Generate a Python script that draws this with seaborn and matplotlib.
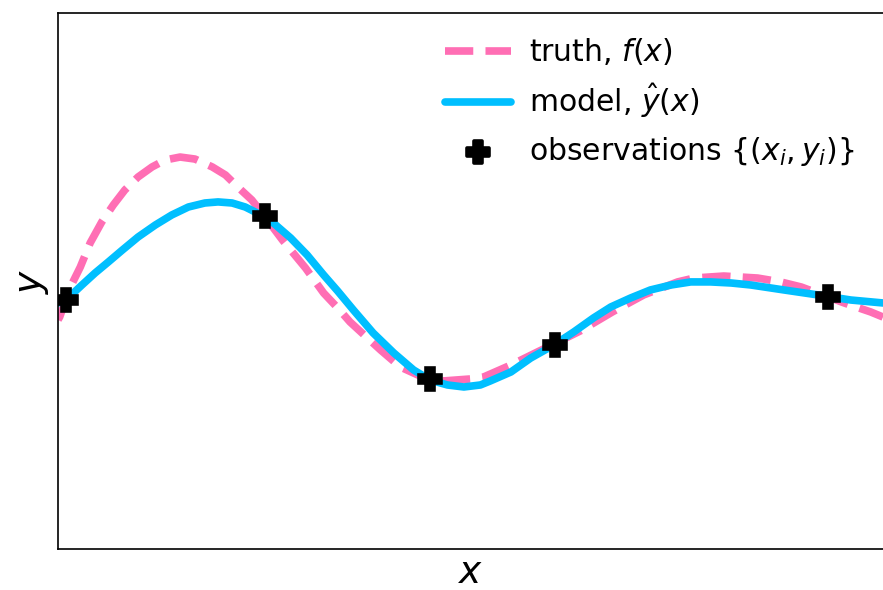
import matplotlib
matplotlib.use("Agg")
import matplotlib.pyplot as plt
import pandas as pd
import seaborn as sns

# Ground-truth function f(x), sampled along the unit interval
truth_x = [0.000, 0.002, 0.015, 0.027, 0.039, 0.053, 0.067, 0.081, 0.097, 0.114,
           0.130, 0.148, 0.166, 0.187, 0.203, 0.218, 0.235, 0.251, 0.272, 0.300,
           0.322, 0.339, 0.354, 0.375, 0.391, 0.415, 0.436, 0.467, 0.500, 0.516,
           0.549, 0.581, 0.601, 0.633, 0.672, 0.710, 0.751, 0.771, 0.807, 0.848,
           0.876, 0.901, 0.953, 0.985, 1.000]
truth_y = [-0.290, -0.269, -0.045, 0.104, 0.284, 0.440, 0.567, 0.679, 0.776, 0.851,
           0.903, 0.925, 0.910, 0.851, 0.791, 0.701, 0.604, 0.478, 0.306, 0.097,
           -0.090, -0.201, -0.306, -0.425, -0.515, -0.642, -0.701, -0.746, -0.731, -0.716,
           -0.627, -0.530, -0.470, -0.373, -0.231, -0.104, -0.007, 0.022, 0.037, 0.022,
           -0.007, -0.045, -0.164, -0.231, -0.269]

# Fitted model prediction y_hat(x)
model_x = [0.000, 0.011, 0.029, 0.045, 0.061, 0.078, 0.097, 0.118, 0.138, 0.158,
           0.178, 0.194, 0.211, 0.227, 0.239, 0.251, 0.261, 0.282, 0.302, 0.322,
           0.339, 0.358, 0.382, 0.407, 0.431, 0.451, 0.472, 0.492, 0.512, 0.524,
           0.549, 0.573, 0.601, 0.625, 0.649, 0.670, 0.694, 0.718, 0.743, 0.767,
           0.791, 0.816, 0.840, 0.880, 0.921, 0.961, 1.000]
model_y = [-0.164, -0.134, -0.030, 0.060, 0.142, 0.231, 0.328, 0.418, 0.493, 0.552,
           0.582, 0.590, 0.582, 0.552, 0.515, 0.481, 0.433, 0.321, 0.194, 0.045,
           -0.075, -0.216, -0.388, -0.537, -0.664, -0.739, -0.776, -0.791, -0.776, -0.746,
           -0.679, -0.575, -0.478, -0.381, -0.276, -0.194, -0.127, -0.067, -0.030, -0.007,
           -0.007, -0.015, -0.030, -0.067, -0.104, -0.142, -0.164]

# Observed training points
obs_x = [0.010, 0.251, 0.451, 0.602, 0.933]
obs_y = [-0.142, 0.485, -0.731, -0.478, -0.119]

truth = pd.DataFrame({"x": truth_x, "y": truth_y})
model = pd.DataFrame({"x": model_x, "y": model_y})
obs = pd.DataFrame({"x": obs_x, "y": obs_y})

sns.set_style("white", {"axes.edgecolor": "black", "text.color": "black",
                        "axes.labelcolor": "black"})
plt.rcParams["font.family"] = ["DejaVu Sans"]
plt.rcParams["mathtext.fontset"] = "dejavusans"

fig = plt.figure(figsize=(8.83, 5.90), dpi=100)
ax = fig.add_axes([0.0657, 0.0695, 0.9343, 0.9085])

sns.lineplot(data=truth, x="x", y="y", ax=ax, color="#ff6eb4", linewidth=5.5,
             linestyle="--", dash_joinstyle="round",
             label=r"truth, $f(x)$")
sns.lineplot(data=model, x="x", y="y", ax=ax, color="#00bfff", linewidth=5.5,
             solid_joinstyle="round", label=r"model, $\hat{y}(x)$")
sns.scatterplot(data=obs, x="x", y="y", ax=ax, color="black", marker="P", s=240,
                edgecolor="black", linewidth=2.6, joinstyle="miter", zorder=5,
                label=r"observations $\{(x_i, y_i)\}$")

ax.set_xlim(0, 1)
ax.set_ylim(-2, 2)
ax.set_xticks([])
ax.set_yticks([])
ax.set_xlabel(r"$x$", fontsize=27, labelpad=4)
ax.set_ylabel(r"$y$", fontsize=27, labelpad=5)
for side in ["left", "bottom", "top"]:
    ax.spines[side].set_linewidth(1.2)
    ax.spines[side].set_color("black")
ax.spines["right"].set_visible(False)

ax.legend(loc="upper right", bbox_to_anchor=(0.990, 0.996), frameon=False,
          fontsize=21.5, handlelength=2.2, handletextpad=0.6, labelspacing=0.5,
          borderaxespad=0.3)

fig.savefig("out.png", dpi=100)
